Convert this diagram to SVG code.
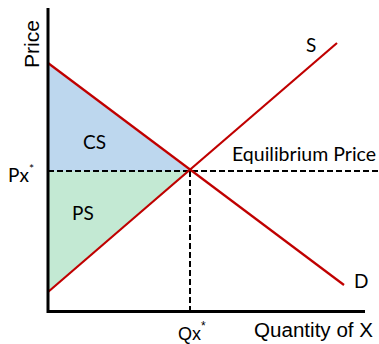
<svg xmlns="http://www.w3.org/2000/svg" width="379" height="344" viewBox="0 0 379 344">
<style>
.ax{stroke:#000;stroke-width:3;fill:none}
.curve{stroke:#C00000;stroke-width:2.2;fill:none}
.dash{stroke:#000;stroke-width:2;stroke-dasharray:6 3;fill:none}
.cal{font-family:Lato,"Open Sans",sans-serif;fill:#000;font-size:19px}
.ar{font-family:"Liberation Sans",Arial,sans-serif;fill:#000}
</style>
<rect width="379" height="344" fill="#fff"/>
<g id="cs-area"><polygon points="48,63 190,171 48,171" fill="#BDD7EE"/></g>
<g id="ps-area"><polygon points="48,171 190,171 48,292" fill="#C3E9D3"/></g>
<g id="connectors">
<line class="dash" x1="48" y1="171" x2="378" y2="171"/>
<line class="dash" x1="190" y1="171" x2="190" y2="311"/>
<line class="curve" x1="48" y1="63" x2="344" y2="285"/>
<line class="curve" x1="48" y1="292" x2="337" y2="43"/>
<polyline class="ax" points="48,8 48,311.5 365,311.5"/>
</g>
<g id="labels">
<text class="ar" font-size="21" transform="translate(38.5,68) rotate(-90)">Price</text>
<text class="ar" font-size="20" x="254" y="337" textLength="119" lengthAdjust="spacingAndGlyphs">Quantity of X</text>
<text class="ar" font-size="18" x="178" y="340">Qx<tspan font-size="12" dy="-10">*</tspan></text>
<text class="cal" x="8" y="182">Px<tspan font-size="12" dy="-9">*</tspan></text>
<text class="cal" x="83" y="149">CS</text>
<text class="cal" x="72" y="220">PS</text>
<text class="cal" x="232" y="161" textLength="144" lengthAdjust="spacingAndGlyphs">Equilibrium Price</text>
<text class="cal" x="306" y="52">S</text>
<text class="cal" x="354" y="288">D</text>
</g>
</svg>
